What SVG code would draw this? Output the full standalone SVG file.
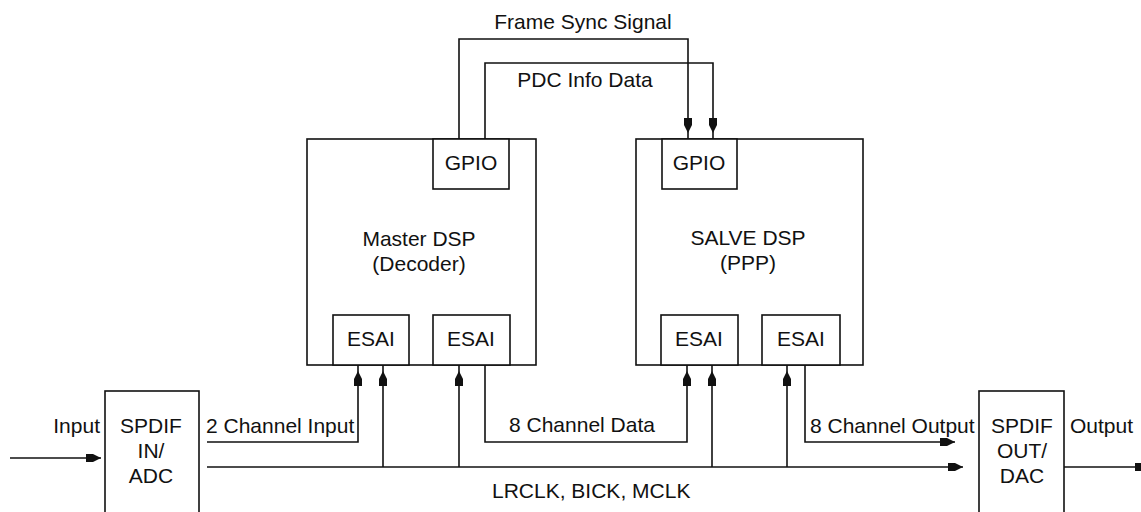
<svg xmlns="http://www.w3.org/2000/svg" width="1141" height="512" viewBox="0 0 1141 512">
  <defs>
    <style>
      .box { fill: #fff; stroke: #111; stroke-width: 1.6; }
      .wire { fill: none; stroke: #111; stroke-width: 1.6; }
      text { font-family: "Liberation Sans", Arial, sans-serif; font-size: 21px; fill: #111; }
      .mid { text-anchor: middle; }
      .end { text-anchor: end; }
    </style>
    <!-- arrowhead whose tip sits at the end of the line -->
    <marker id="arrow" markerUnits="userSpaceOnUse" viewBox="0 0 15 10" markerWidth="15" markerHeight="10" refX="15" refY="5" orient="auto">
      <path d="M0,1 L7,1 L15,5 L7,9 L0,9 Z" fill="#111"/>
    </marker>
    <!-- arrowhead that stops a few pixels short of the box it points into -->
    <marker id="arrowGap" markerUnits="userSpaceOnUse" viewBox="0 0 21 10" markerWidth="21" markerHeight="10" refX="21" refY="5" orient="auto">
      <path d="M0,1 L7,1 L15,5 L7,9 L0,9 Z" fill="#111"/>
    </marker>
  </defs>

  <rect width="1141" height="512" fill="#fff"/>

  <!-- Master DSP -->
  <g id="master-dsp">
    <rect class="box" x="307" y="139" width="229" height="226"/>
    <text class="mid" x="419" y="246">Master DSP</text>
    <text class="mid" x="419" y="271">(Decoder)</text>
  </g>
  <g id="master-gpio">
    <rect class="box" x="433" y="139" width="76" height="50"/>
    <text class="mid" x="471" y="170">GPIO</text>
  </g>
  <g id="master-esai-in">
    <rect class="box" x="333" y="315" width="76" height="50"/>
    <text class="mid" x="371" y="346">ESAI</text>
  </g>
  <g id="master-esai-out">
    <rect class="box" x="433" y="315" width="77" height="50"/>
    <text class="mid" x="471" y="346">ESAI</text>
  </g>

  <!-- Slave DSP -->
  <g id="slave-dsp">
    <rect class="box" x="636" y="139" width="227" height="226"/>
    <text class="mid" x="748" y="245">SALVE DSP</text>
    <text class="mid" x="748" y="270">(PPP)</text>
  </g>
  <g id="slave-gpio">
    <rect class="box" x="662" y="139" width="75" height="50"/>
    <text class="mid" x="699" y="170">GPIO</text>
  </g>
  <g id="slave-esai-in">
    <rect class="box" x="661" y="315" width="77" height="50"/>
    <text class="mid" x="699" y="346">ESAI</text>
  </g>
  <g id="slave-esai-out">
    <rect class="box" x="762" y="315" width="78" height="50"/>
    <text class="mid" x="801" y="346">ESAI</text>
  </g>

  <!-- converters -->
  <g id="spdif-in">
    <rect class="box" x="105" y="391" width="94" height="140"/>
    <text class="mid" x="151" y="433">SPDIF</text>
    <text class="mid" x="151" y="458">IN/</text>
    <text class="mid" x="151" y="483">ADC</text>
  </g>
  <g id="spdif-out">
    <rect class="box" x="979" y="391" width="85" height="140"/>
    <text class="mid" x="1022" y="433">SPDIF</text>
    <text class="mid" x="1022" y="458">OUT/</text>
    <text class="mid" x="1022" y="483">DAC</text>
  </g>

  <!-- connectors -->
  <g id="connectors">
    <!-- GPIO to GPIO -->
    <path class="wire" d="M459,139 V39 H688 V139" marker-end="url(#arrowGap)"/>
    <path class="wire" d="M485,139 V63 H713 V139" marker-end="url(#arrowGap)"/>
    <!-- audio in -->
    <path class="wire" d="M10,458 H101" marker-end="url(#arrow)"/>
    <path class="wire" d="M207,442 H358 V365" marker-end="url(#arrowGap)"/>
    <!-- decoded data to slave -->
    <path class="wire" d="M485,365 V442 H687 V365" marker-end="url(#arrowGap)"/>
    <!-- slave output -->
    <path class="wire" d="M805,365 V442 H955" marker-end="url(#arrow)"/>
    <!-- clock bus -->
    <path class="wire" d="M207,467 H963" marker-end="url(#arrow)"/>
    <path class="wire" d="M383,467 V365" marker-end="url(#arrowGap)"/>
    <path class="wire" d="M459,467 V365" marker-end="url(#arrowGap)"/>
    <path class="wire" d="M712,467 V365" marker-end="url(#arrowGap)"/>
    <path class="wire" d="M787,467 V365" marker-end="url(#arrowGap)"/>
    <!-- audio out -->
    <path class="wire" d="M1064,467 H1150" marker-end="url(#arrow)"/>
  </g>

  <!-- connector labels -->
  <g id="labels">
    <text class="mid" x="583" y="29">Frame Sync Signal</text>
    <text class="mid" x="585" y="87">PDC Info Data</text>
    <text class="end" x="100" y="433">Input</text>
    <text x="206" y="433">2 Channel Input</text>
    <text x="509" y="432">8 Channel Data</text>
    <text x="492" y="498">LRCLK, BICK, MCLK</text>
    <text x="810" y="433">8 Channel Output</text>
    <text x="1070" y="433">Output</text>
  </g>
</svg>
